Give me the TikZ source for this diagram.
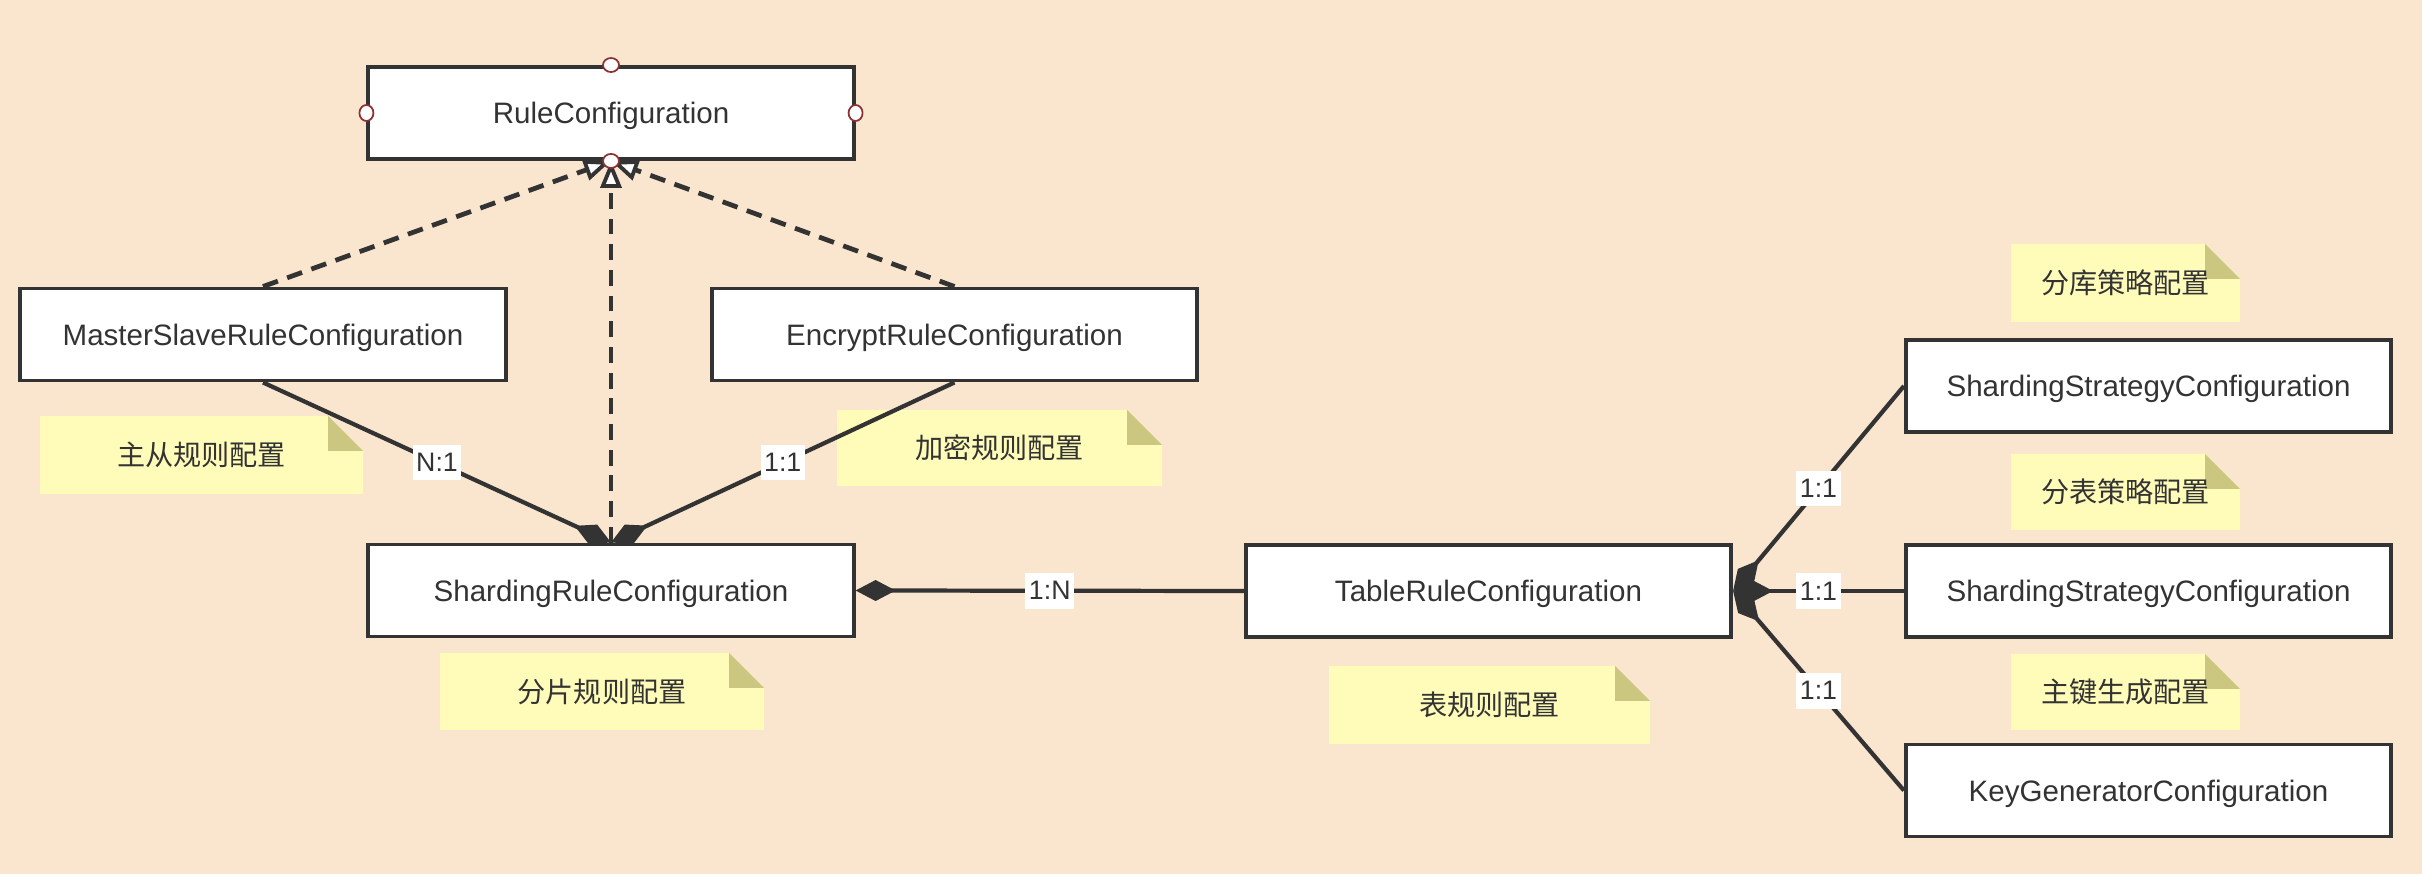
\documentclass[tikz,border=0pt]{standalone}
\usepackage{fontspec}
\setmainfont{Liberation Sans}
\newfontfamily\cjk{Noto Sans CJK SC}
\usetikzlibrary{arrows.meta}

\definecolor{bgpeach}{RGB}{250,230,206}
\definecolor{notefill}{RGB}{255,252,186}
\definecolor{notefold}{RGB}{204,199,128}
\definecolor{linegray}{RGB}{51,51,51}
\definecolor{handlered}{RGB}{140,50,50}

\tikzset{
  classbox/.style={draw=linegray, line width=1.1pt, fill=white, minimum width=4.85cm, minimum height=0.92cm, inner sep=0pt, text depth=0pt, text=linegray, font=\fontsize{8.4}{10}\selectfont},
  realize/.style={draw=linegray, line width=1.35pt, dash pattern=on 4.5pt off 2.8pt, -{Triangle[length=0.27cm, width=0.21cm, fill=white, line width=1.1pt]}},
  compose/.style={draw=linegray, line width=1.2pt, -{Diamond[length=0.40cm, width=0.21cm]}},
  mult/.style={fill=white, text=linegray, inner xsep=1pt, inner ysep=2.5pt, font=\fontsize{7.6}{9}\selectfont},
  notetext/.style={text=linegray, font=\cjk\fontsize{8}{10}\selectfont},
  handle/.style={draw=handlered, fill=white, line width=0.5pt}
}

\newcommand{\notepaper}[6]{%
  \fill[notefill] (#2,#3) -- ({#4-35},#3) -- (#4,{#3+35}) -- (#4,#5) -- (#2,#5) -- cycle;
  \fill[notefold] ({#4-35},#3) -- ({#4-35},{#3+35}) -- (#4,{#3+35}) -- cycle;
  \node[notetext] (#1) at ({(#2+#4)/2},{(#3+#5)/2}) {#6};
}

\begin{document}
\begin{tikzpicture}[x=0.01cm, y=-0.01cm]
\fill[bgpeach] (0,0) rectangle (2422,874);
\useasboundingbox (0,0) rectangle (2422,874);

\notepaper{masternote}{40}{416}{363}{494}{主从规则配置}
\notepaper{encryptnote}{837}{410}{1162}{486}{加密规则配置}
\notepaper{shardingnote}{440}{653}{764}{730}{分片规则配置}
\notepaper{tablenote}{1329}{666}{1650}{744}{表规则配置}
\notepaper{dbnote}{2011}{244}{2240}{322}{分库策略配置}
\notepaper{tbnote}{2011}{454}{2240}{530}{分表策略配置}
\notepaper{keynote}{2011}{654}{2240}{730}{主键生成配置}

\node[classbox] (rule) at (611,113) {RuleConfiguration};
\node[classbox] (master) at (263,334.5) {MasterSlaveRuleConfiguration};
\node[classbox] (encrypt) at (954.5,334.5) {EncryptRuleConfiguration};
\node[classbox] (sharding) at (611,590.5) {ShardingRuleConfiguration};
\node[classbox] (table) at (1488.5,591) {TableRuleConfiguration};
\node[classbox] (dbstrategy) at (2148.5,386) {ShardingStrategyConfiguration};
\node[classbox] (tbstrategy) at (2148.5,591) {ShardingStrategyConfiguration};
\node[classbox] (keygen) at (2148.5,790.5) {KeyGeneratorConfiguration};

\draw[compose] (master.south) -- node[mult] {N:1} (sharding.north);
\draw[compose] (encrypt.south) -- node[mult] {1:1} (sharding.north);
\draw[compose] (table.west) -- node[mult] {1:N} (sharding.east);
\draw[compose] (dbstrategy.west) -- node[mult] {1:1} (table.east);
\draw[compose] (tbstrategy.west) -- node[mult] {1:1} (table.east);
\draw[compose] (keygen.west) -- node[mult] {1:1} (table.east);

\draw[realize] (master.north) -- (rule.south);
\draw[realize] (encrypt.north) -- (rule.south);
\draw[realize] (sharding.north) -- (rule.south);

\draw[handle] (rule.north) ellipse [x radius=0.08cm, y radius=0.07cm];
\draw[handle] (rule.west) ellipse [x radius=0.07cm, y radius=0.08cm];
\draw[handle] (rule.east) ellipse [x radius=0.07cm, y radius=0.08cm];
\draw[handle] (rule.south) ellipse [x radius=0.08cm, y radius=0.07cm];
\end{tikzpicture}
\end{document}
